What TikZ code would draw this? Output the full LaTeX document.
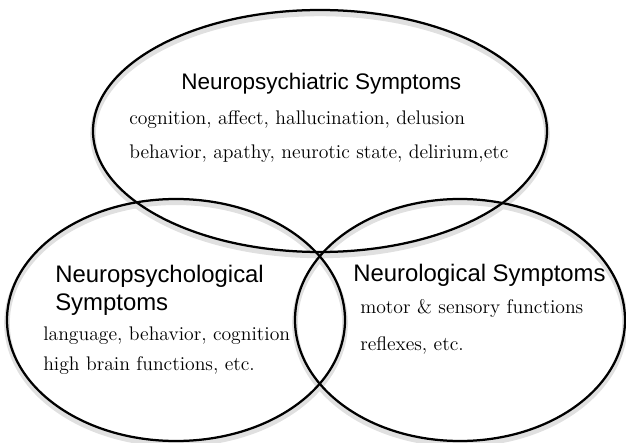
\documentclass[tikz,border=0pt]{standalone}
\usepackage{fontspec}
\newfontfamily\headfont{Liberation Sans}
\usetikzlibrary{shapes.geometric}
\tikzset{
  ring/.style={ellipse, draw, line width=1.6pt, inner sep=0pt},
  ringshadow/.style={ellipse, draw=black!12, line width=4pt, inner sep=0pt},
  heading/.style={anchor=base west, inner sep=0pt, font=\headfont\fontsize{16}{19}\selectfont},
  bigheading/.style={heading, font=\headfont\fontsize{17}{20}\selectfont},
  item/.style={anchor=base west, inner sep=0pt, font=\fontsize{14}{17}\selectfont},
}

\begin{document}
\begin{tikzpicture}
			% Frame
			\useasboundingbox (0,0) rectangle (15.65,11.05);
			% Shadows
			\node[ringshadow, minimum width=11.35cm, minimum height=6.05cm] (psychiatricshadow) at (8,7.69) {};
			\node[ringshadow, minimum width=8.45cm, minimum height=6.05cm] (psychologicalshadow) at (4.4,2.97) {};
			\node[ringshadow, minimum width=8.25cm, minimum height=6.05cm] (neurologicalshadow) at (11.5,2.97) {};
			% Circles
			\node[ring, minimum width=11.35cm, minimum height=6.05cm] (psychiatric) at (8,7.775) {};
			\node[ring, minimum width=8.45cm, minimum height=6.05cm] (psychological) at (4.4,3.05) {};
			\node[ring, minimum width=8.25cm, minimum height=6.05cm] (neurological) at (11.5,3.05) {};
			% Top
			\node[heading] (psychiatrictitle) at (4.525,8.8) {Neuropsychiatric Symptoms};
			\node[item] (psychiatricone) at (3.225,7.925) {cognition, affect, hallucination, delusion};
			\node[item] (psychiatrictwo) at (3.225,7.075) {behavior, apathy, neurotic state, delirium,etc};
			% Left
			\node[bigheading] (psychologicaltitle) at (1.375,4.0) {Neuropsychological};
			\node[bigheading] (psychologicaltitletwo) at (1.375,3.3) {Symptoms};
			\node[item] (psychologicalone) at (1.075,2.55) {language, behavior, cognition};
			\node[item] (psychologicaltwo) at (1.075,1.8) {high brain functions, etc.};
			% Right
			\node[bigheading] (neurologicaltitle) at (8.825,4.025) {Neurological Symptoms};
			\node[item] (neurologicalone) at (9.0,3.225) {motor \& sensory functions};
			\node[item] (neurologicaltwo) at (9.0,2.3) {reflexes, etc.};
\end{tikzpicture}
\end{document}
